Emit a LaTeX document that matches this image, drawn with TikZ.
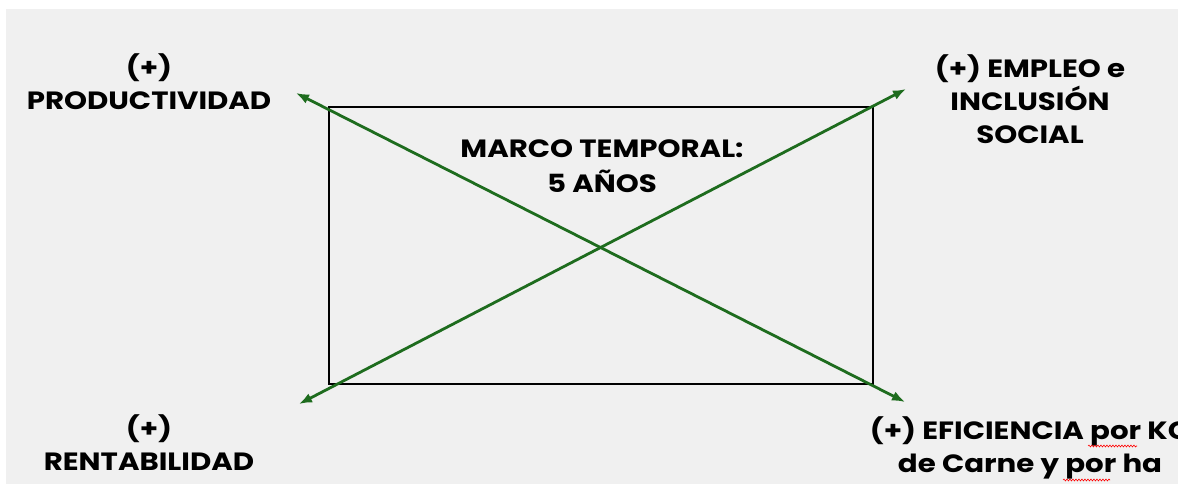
\documentclass[tikz,border=0pt]{standalone}
\usepackage{fontspec}
\setmainfont{Poppins}[UprightFont=* Bold,BoldFont=* Bold,FakeStretch=1.17]
\usetikzlibrary{arrows.meta,decorations.pathmorphing}
\definecolor{bggray}{RGB}{240,240,240}
\definecolor{arrowgreen}{RGB}{30,108,30}
\begin{document}
\begin{tikzpicture}[x=1pt,y=-1pt,
  lbl/.style={font=\fontsize{25}{33}\selectfont, align=center, inner sep=0pt, text=black},
  dbl/.style={draw=arrowgreen, line width=2.8pt, {Latex[length=13pt,width=10pt]}-{Latex[length=13pt,width=10pt]}},
  frame/.style={draw=black, line width=2.2pt, minimum width=544pt, minimum height=277pt, inner sep=0pt},
  squig/.style={draw=red, line width=0.6pt, decorate, decoration={snake, amplitude=0.9pt, segment length=3pt}}]
\useasboundingbox (0,0) rectangle (1178,484);
\clip (0,0) rectangle (1178,484);
\fill[bggray] (6,9) rectangle (1178,484);
\node[frame] (box) at (601,245.5) {};
\coordinate (tl) at (296,93);
\coordinate (br) at (905,402);
\coordinate (bl) at (299,404);
\coordinate (tr) at (906,89);
\draw[dbl] (tl) -- (br);
\draw[dbl] (bl) -- (tr);
\node[lbl] (prod) at (149,82) {(+)\\PRODUCTIVIDAD};
\node[lbl] (empleo) at (1030,99) {(+) EMPLEO e\\INCLUSIÓN\\SOCIAL};
\node[lbl] (rent) at (149,443) {(+)\\RENTABILIDAD};
\node[lbl] (efic) at (1030,448) {(+) EFICIENCIA por KG\\de Carne y por ha};
\node[lbl, font=\fontsize{25}{35}\selectfont] (marco) at (602,166) {MARCO TEMPORAL:\\5 AÑOS};
\draw[squig] (1088,446) -- (1137,446);
\draw[squig] (1063,480) -- (1110,480);
\end{tikzpicture}
\end{document}
